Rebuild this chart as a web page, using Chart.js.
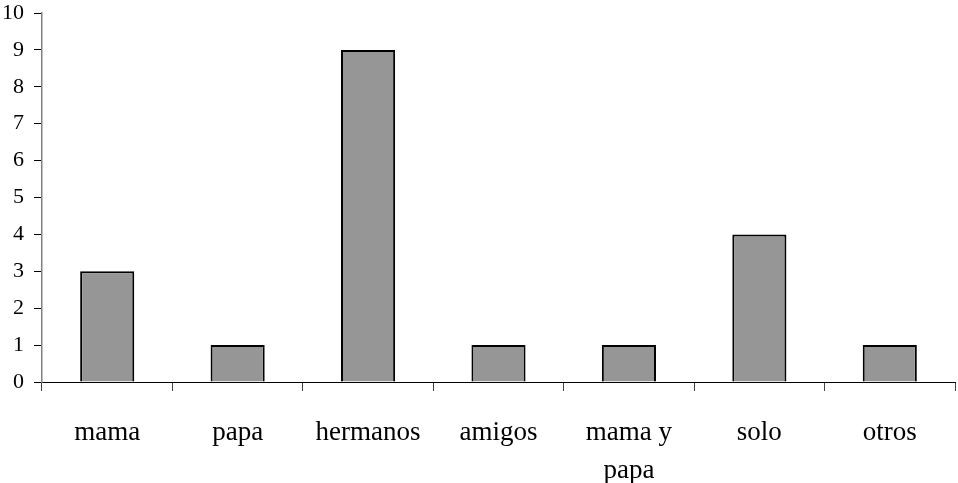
<!DOCTYPE html>
<html>
<head>
<meta charset="utf-8">
<script src="https://cdn.jsdelivr.net/npm/chart.js@4.4.0/dist/chart.umd.min.js"></script>
<style>
  html, body { margin: 0; padding: 0; background: #fff; }
  #wrap { width: 958px; height: 483px; }
</style>
</head>
<body>
<div id="wrap"><canvas id="chart" width="958" height="483"></canvas></div>
<script>
// categories and values
const categories = ['mama', 'papa', 'hermanos', 'amigos', ['mama y', 'papa'], 'solo', 'otros'];
const counts = [3, 1, 9, 1, 1, 4, 1];
const yTicks = [0, 1, 2, 3, 4, 5, 6, 7, 8, 9, 10];

const serif = 'Liberation Serif, Times New Roman, serif';

new Chart(document.getElementById('chart'), {
  type: 'bar',
  data: {
    labels: categories,
    datasets: [{
      data: counts,
      backgroundColor: '#969696',
      borderColor: '#000',
      borderWidth: 2,
      barPercentage: 0.415,
      categoryPercentage: 1,
    }],
  },
  options: {
    responsive: false,
    animation: false,
    layout: { padding: { top: 13, right: 3 } },
    plugins: { legend: { display: false }, tooltip: { enabled: false } },
    scales: {
      x: {
        afterFit: (s) => { s.height = 101; },
        border: { color: '#000', width: 1 },
        grid: { offset: true, drawOnChartArea: false, tickLength: 9, color: '#444' },
        ticks: {
          color: '#000',
          padding: 23,
          maxRotation: 0,
          font: { family: serif, size: 27, lineHeight: 1.41 },
        },
      },
      y: {
        min: 0,
        max: 10,
        afterFit: (s) => { s.width = 42; s.paddingTop = 0; s.paddingBottom = 0; },
        afterBuildTicks: (s) => { s.ticks = yTicks.map(v => ({ value: v })); },
        border: { color: '#808080', width: 1.5 },
        grid: { drawOnChartArea: false, tickLength: 8, color: '#000' },
        ticks: {
          color: '#000',
          padding: 10,
          font: { family: serif, size: 22 },
        },
      },
    },
  },
});
</script>
</body>
</html>
